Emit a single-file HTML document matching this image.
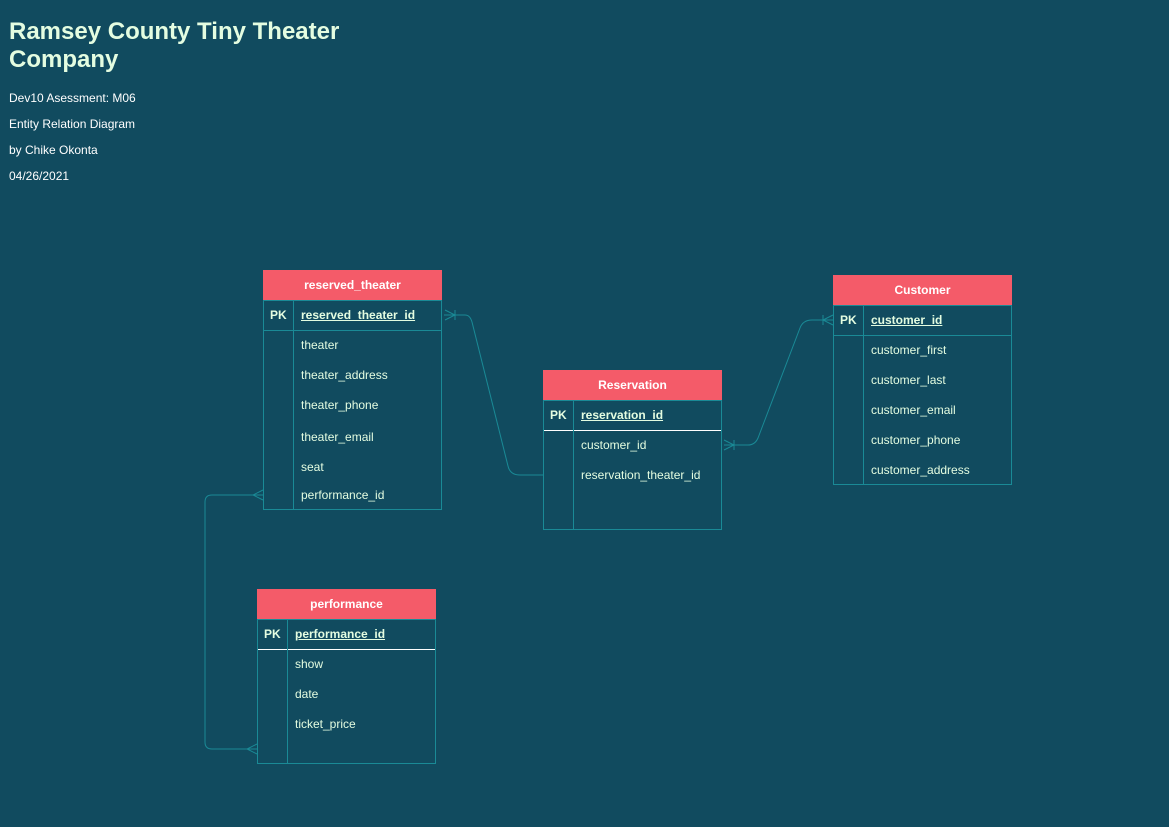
<!DOCTYPE html>
<html><head><meta charset="utf-8"><style>
body{margin:0;width:1169px;height:827px;background:#114b5f;position:relative;overflow:hidden;font-family:"Liberation Sans",sans-serif;color:#e4fde1}
.t{position:absolute;left:9px;font-size:12px;color:#fff}
.tb{position:absolute;width:179px;border:1px solid #1a8a96;border-top:none;box-sizing:border-box}
.h{height:30px;background:#f45b69;color:#fff;font-weight:bold;font-size:12px;text-align:center;line-height:30px;margin:0 -1px}
.pk{height:29px;border-top:1px solid #1a8a96;position:relative;font-size:12px;font-weight:bold;line-height:29px}
.pk .k{position:absolute;left:6px}
.pk .n{position:absolute;left:37px;text-decoration:underline}
.col{position:absolute;left:29px;width:1px;background:#1a8a96}
.f{position:absolute;left:37px;font-size:12px}
</style></head><body>
<div style="position:absolute;left:9px;top:18px;font-size:24px;font-weight:bold;line-height:28px;color:#e4fde1">Ramsey County Tiny Theater<br>Company</div>
<div class="t" style="top:91px">Dev10 Asessment: M06</div>
<div class="t" style="top:117px">Entity Relation Diagram</div>
<div class="t" style="top:143px">by Chike Okonta</div>
<div class="t" style="top:169px">04/26/2021</div>

<svg width="1169" height="827" style="position:absolute;left:0;top:0" fill="none" stroke="#1a8a96" stroke-width="1">
<path d="M444 315 H465 Q470 315 472 322 L508 466 Q510 475 520 475 H543"/>
<path d="M445 310 L455 315 L445 320 M455 310 V320"/>
<path d="M724 445 H748 Q755 445 758 438 L800 328 Q803 320 812 320 H833"/>
<path d="M833 315 L823 320 L833 325 M823 315 V325"/>
<path d="M724 440 L734 445 L724 450 M734 440 V450"/>
<path d="M263 495 H212 Q205 495 205 502 V742 Q205 749 212 749 H257"/>
<path d="M263 490 L253 495 L263 500"/>
<path d="M257 744 L247 749 L257 754"/>
</svg>

<div class="tb" style="left:263px;top:270px;height:240px">
<div class="h">reserved_theater</div>
<div class="pk"><span class="k">PK</span><span class="n">reserved_theater_id</span></div>
<div style="border-top:1px solid #1a8a96"></div>
<div class="col" style="top:30px;height:210px"></div>
<div class="f" style="top:68px">theater</div>
<div class="f" style="top:98px">theater_address</div>
<div class="f" style="top:128px">theater_phone</div>
<div class="f" style="top:160px">theater_email</div>
<div class="f" style="top:190px">seat</div>
<div class="f" style="top:218px">performance_id</div>
</div>

<div class="tb" style="left:543px;top:370px;height:160px">
<div class="h">Reservation</div>
<div class="pk"><span class="k">PK</span><span class="n">reservation_id</span></div>
<div style="border-top:1px solid #fff"></div>
<div class="col" style="top:30px;height:130px"></div>
<div class="f" style="top:68px">customer_id</div>
<div class="f" style="top:98px">reservation_theater_id</div>
</div>

<div class="tb" style="left:833px;top:275px;height:210px">
<div class="h">Customer</div>
<div class="pk"><span class="k">PK</span><span class="n">customer_id</span></div>
<div style="border-top:1px solid #1a8a96"></div>
<div class="col" style="top:30px;height:180px"></div>
<div class="f" style="top:68px">customer_first</div>
<div class="f" style="top:98px">customer_last</div>
<div class="f" style="top:128px">customer_email</div>
<div class="f" style="top:158px">customer_phone</div>
<div class="f" style="top:188px">customer_address</div>
</div>

<div class="tb" style="left:257px;top:589px;height:175px">
<div class="h">performance</div>
<div class="pk"><span class="k">PK</span><span class="n">performance_id</span></div>
<div style="border-top:1px solid #fff"></div>
<div class="col" style="top:30px;height:145px"></div>
<div class="f" style="top:68px">show</div>
<div class="f" style="top:98px">date</div>
<div class="f" style="top:128px">ticket_price</div>
</div>
</body></html>
